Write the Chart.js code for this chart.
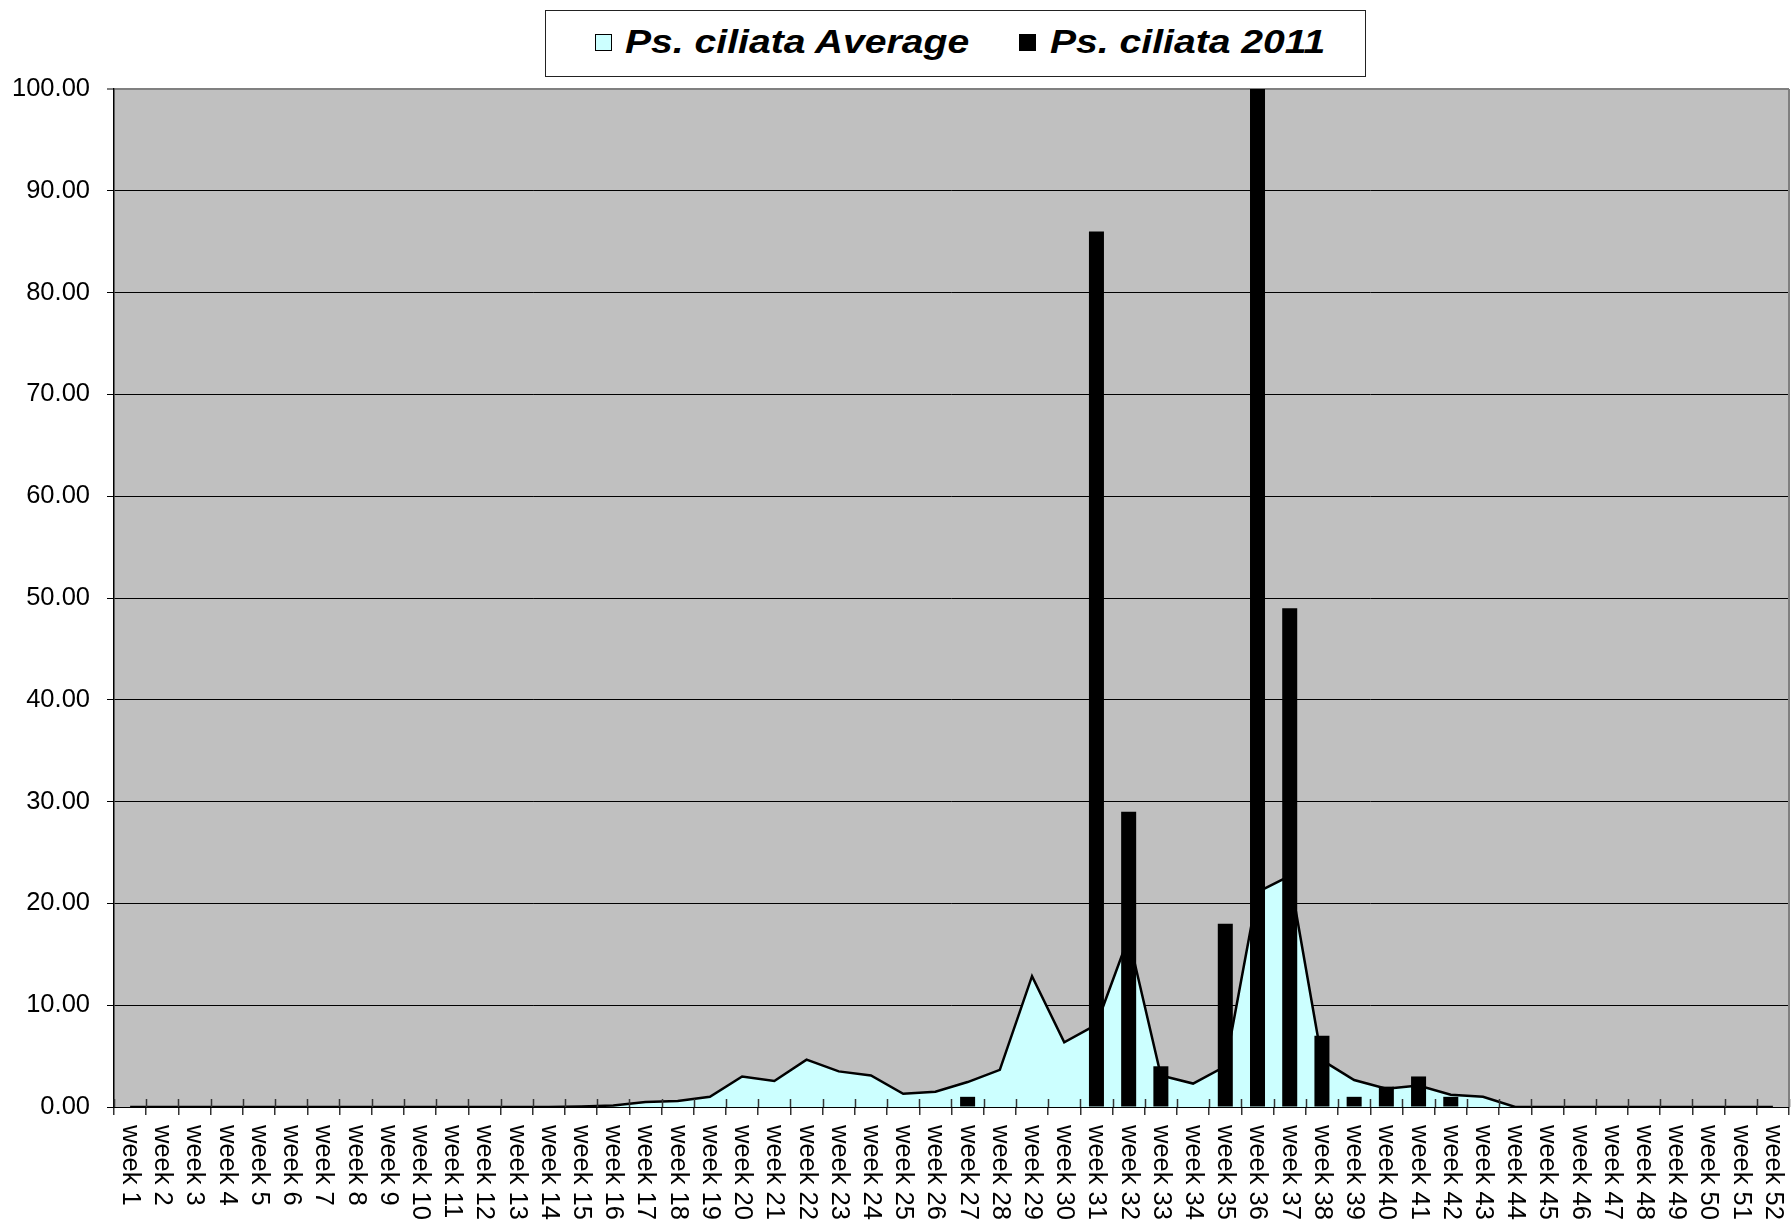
<!DOCTYPE html>
<html>
<head>
<meta charset="utf-8">
<script src="https://cdn.jsdelivr.net/npm/chart.js@4.4.1/dist/chart.umd.min.js"></script>
<style>
  html, body { margin: 0; padding: 0; background: #fff; }
  #wrap { position: relative; width: 1792px; height: 1224px; }
  canvas { display: block; }
  #legend {
    position: absolute; left: 545px; top: 10px; width: 819px; height: 65px;
    border: 1px solid #222; background: #fff;
    font-family: "Liberation Sans", Arial, sans-serif;
  }
  #legend .mk { position: absolute; top: 23px; width: 15px; height: 15px; border: 1.5px solid #000; }
  #legend .tx {
    position: absolute; top: 10px; font-size: 34px; font-weight: bold; font-style: italic;
    line-height: 40px; white-space: nowrap; transform: scaleX(1.15); transform-origin: left center; color: #000;
  }
</style>
</head>
<body>
<div id="wrap">
  <canvas id="chart" width="1792" height="1224"></canvas>
  <div id="legend"></div>
</div>
<script>
// weekly categories
const weeks = Array.from({ length: 52 }, (_, i) => 'week ' + (i + 1));

// Ps. ciliata Average (area)
const avgValues = [
  0, 0, 0, 0, 0, 0, 0, 0, 0, 0,
  0, 0, 0, 0, 0.05, 0.15, 0.5, 0.6, 1.0, 3.0,
  2.55, 4.65, 3.5, 3.1, 1.3, 1.5, 2.45, 3.65, 12.85, 6.35,
  8.1, 16.7, 3.1, 2.3, 4.0, 21.1, 22.7, 4.6, 2.65, 1.8,
  2.1, 1.2, 1.0, 0, 0, 0, 0, 0, 0, 0,
  0, 0
];

// Ps. ciliata 2011 (bars)
const values2011 = [
  0, 0, 0, 0, 0, 0, 0, 0, 0, 0,
  0, 0, 0, 0, 0, 0, 0, 0, 0, 0,
  0, 0, 0, 0, 0, 0, 1, 0, 0, 0,
  86, 29, 4, 0, 18, 100, 49, 7, 1, 2,
  3, 1, 0, 0, 0, 0, 0, 0, 0, 0,
  0, 0
];

const yMin = 0;
const yMax = 100;
const yStep = 10;

const FONT = '"Liberation Sans", Arial, sans-serif';
Chart.defaults.font.family = FONT;
Chart.defaults.color = '#000';

const plotDeco = {
  id: 'plotDeco',
  beforeDraw(chart) {
    const { ctx, chartArea: a } = chart;
    ctx.save();
    ctx.fillStyle = '#C0C0C0';
    ctx.fillRect(a.left, a.top, a.right - a.left, a.bottom - a.top);
    ctx.restore();
  },
  afterDatasetsDraw(chart) {
    // tick marks crossing into the plot, Excel style
    const { ctx, chartArea: a } = chart;
    const xs = chart.scales.x;
    const w = xs.getPixelForValue(1) - xs.getPixelForValue(0);
    ctx.save();
    ctx.strokeStyle = '#333';
    ctx.lineWidth = 1.5;
    ctx.beginPath();
    for (let i = 0; i <= weeks.length; i++) {
      const x = Math.round(xs.getPixelForValue(0) - w / 2 + i * w) + 0.5;
      ctx.moveTo(x, a.bottom - 8);
      ctx.lineTo(x, a.bottom);
    }
    ctx.stroke();
    ctx.strokeStyle = '#808080';
    ctx.lineWidth = 2;
    ctx.beginPath();
    ctx.moveTo(a.right, a.top);
    ctx.lineTo(a.right, a.bottom);
    ctx.stroke();
    ctx.restore();
  },
  afterDraw(chart) {
    // category labels rotated to read top-down
    const { ctx } = chart;
    const xs = chart.scales.x;
    ctx.save();
    ctx.fillStyle = '#000';
    ctx.font = '25.5px ' + FONT;
    ctx.textAlign = 'left';
    ctx.textBaseline = 'middle';
    weeks.forEach((lab, i) => {
      ctx.save();
      ctx.translate(xs.getPixelForValue(i), xs.top + 18);
      ctx.rotate(Math.PI / 2);
      ctx.fillText(lab, 0, 0);
      ctx.restore();
    });
    ctx.restore();
  }
};

const chart = new Chart(document.getElementById('chart').getContext('2d'), {
  type: 'bar',
  data: {
    labels: weeks,
    datasets: [
      {
        type: 'line',
        label: 'Ps. ciliata Average',
        data: avgValues,
        fill: 'origin',
        backgroundColor: '#CCFFFF',
        borderColor: '#000',
        borderWidth: 2.5,
        pointRadius: 0,
        tension: 0,
        order: 1
      },
      {
        type: 'bar',
        label: 'Ps. ciliata 2011',
        data: values2011,
        backgroundColor: '#000',
        barPercentage: 0.466,
        categoryPercentage: 1,
        order: 0
      }
    ]
  },
  options: {
    responsive: false,
    devicePixelRatio: 1,
    animation: false,
    layout: { padding: { top: 89, right: 3, left: 0, bottom: 0 } },
    plugins: { legend: { display: false }, tooltip: { enabled: false } },
    scales: {
      x: {
        offset: true,
        grid: { offset: true, drawOnChartArea: false, tickLength: 8, color: '#333', lineWidth: 1.5 },
        border: { color: '#000', width: 1 },
        ticks: { display: false },
        afterFit: s => { s.height = 117; }
      },
      y: {
        min: yMin,
        max: yMax,
        ticks: {
          stepSize: yStep,
          padding: 17,
          font: { size: 25.5 },
          color: '#000',
          callback: v => Number(v).toFixed(2)
        },
        grid: {
          tickLength: 7,
          color: c => (c.tick && c.tick.value === yMax ? '#808080' : '#000'),
          lineWidth: c => (c.tick && c.tick.value === yMax ? 2 : 1)
        },
        border: { color: '#000', width: 1.5 },
        afterFit: s => { s.width = 114; }
      }
    }
  },
  plugins: [plotDeco]
});

// legend box built from the datasets
const legendPos = [{ mk: 49, tx: 79 }, { mk: 473, tx: 504 }];
const legendEl = document.getElementById('legend');
chart.data.datasets.forEach((ds, i) => {
  const mk = document.createElement('div');
  mk.className = 'mk';
  mk.style.left = legendPos[i].mk + 'px';
  mk.style.background = ds.backgroundColor;
  const tx = document.createElement('div');
  tx.className = 'tx';
  tx.style.left = legendPos[i].tx + 'px';
  tx.textContent = ds.label;
  legendEl.appendChild(mk);
  legendEl.appendChild(tx);
});
</script>
</body>
</html>
